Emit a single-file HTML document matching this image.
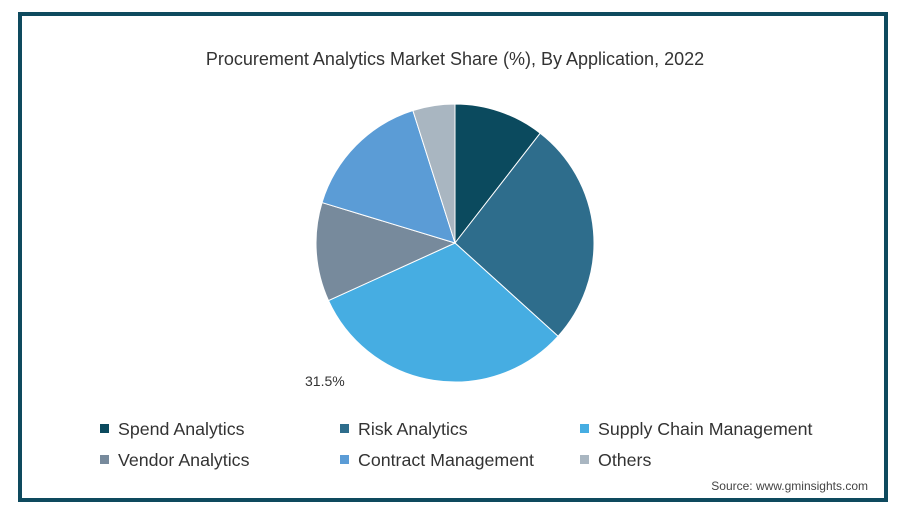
<!DOCTYPE html>
<html><head><meta charset="utf-8"><style>
body{margin:0;background:#fff;width:902px;height:515px;overflow:hidden;font-family:"Liberation Sans",sans-serif}
#frame{position:absolute;left:18px;top:12px;width:862px;height:482px;border:4px solid #0e4a5e;background:#fff}
</style></head><body>
<div id="frame"></div>
<svg id="chart" width="902" height="515" style="position:absolute;left:0;top:0">
<text x="455" y="65" text-anchor="middle" font-size="18" fill="#333">Procurement Analytics Market Share (%), By Application, 2022</text>
<g id="slices"></g>
<text x="305" y="386" font-size="14" fill="#333">31.5%</text>
<g id="legend"></g>
<text x="868" y="490" text-anchor="end" font-size="12" fill="#444">Source: www.gminsights.com</text>
</svg>
<script>
const categories=["Spend Analytics","Risk Analytics","Supply Chain Management","Vendor Analytics","Contract Management","Others"];
const values=[10.5,26.2,31.5,11.5,15.4,4.9];
const colors=["#0b4a5e","#2e6d8c","#46ade2","#778a9c","#5b9cd6","#a9b6c1"];
const NS="http://www.w3.org/2000/svg";
const cx=455,cy=243,r=139;
const total=values.reduce((a,b)=>a+b,0);
const g=document.getElementById('slices');
let acc=0;
function pt(f){const a=f*2*Math.PI;return [cx+r*Math.sin(a),cy-r*Math.cos(a)];}
values.forEach((v,i)=>{
  const f0=acc/total,f1=(acc+v)/total;acc+=v;
  const [x0,y0]=pt(f0),[x1,y1]=pt(f1);
  const p=document.createElementNS(NS,'path');
  p.setAttribute('d',`M${cx},${cy}L${x0},${y0}A${r},${r} 0 ${f1-f0>0.5?1:0} 1 ${x1},${y1}Z`);
  p.setAttribute('fill',colors[i]);p.setAttribute('stroke','#fff');p.setAttribute('stroke-width','1');
  
  
  g.appendChild(p);
});
const lg=document.getElementById('legend');
categories.forEach((c,i)=>{
  const col=i%3,row=Math.floor(i/3);
  const x=100+col*240,y=429+row*31;
  const e=document.createElementNS(NS,'g');
  
  
  const s=document.createElementNS(NS,'rect');
  s.setAttribute('x',x);s.setAttribute('y',y-5);s.setAttribute('width',9);s.setAttribute('height',9);s.setAttribute('fill',colors[i]);
  const t=document.createElementNS(NS,'text');
  t.setAttribute('x',x+18);t.setAttribute('y',y+6);t.setAttribute('font-size','17.8');t.setAttribute('fill','#333');
  t.textContent=c;
  e.appendChild(s);e.appendChild(t);lg.appendChild(e);
});
</script>
</body></html>
